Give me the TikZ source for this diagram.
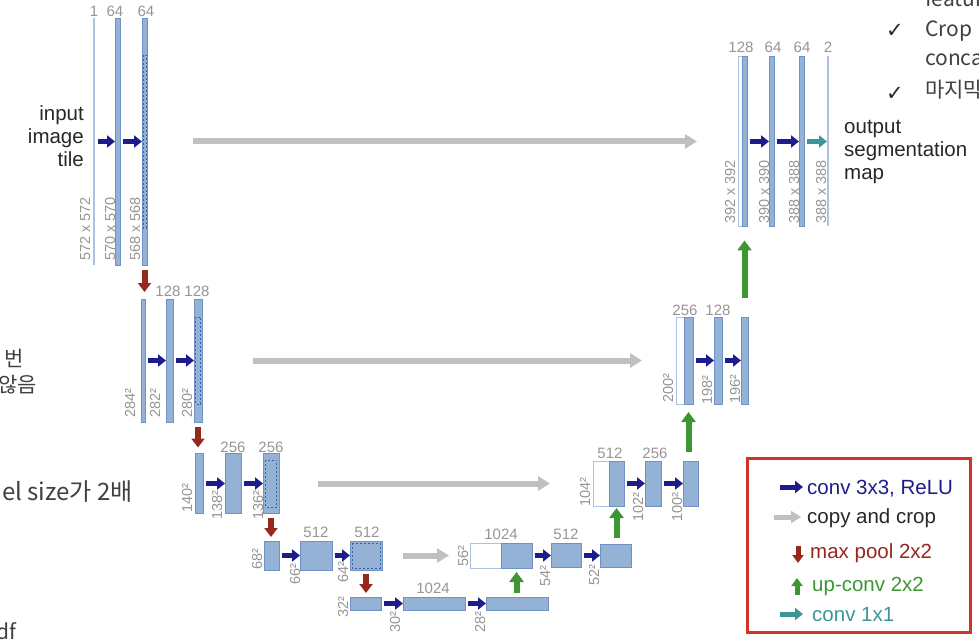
\documentclass[tikz,border=0pt]{standalone}
\usepackage{fontspec}
\setmainfont{Liberation Sans}
\newfontfamily\krfont{Noto Sans CJK KR}
\newfontfamily\symfont{DejaVu Sans}
\usetikzlibrary{arrows.meta}
\definecolor{bfill}{RGB}{148,177,214}
\definecolor{bedge}{RGB}{110,146,196}
\definecolor{bthin}{RGB}{172,194,226}
\definecolor{navyc}{RGB}{28,28,140}
\definecolor{cgray}{RGB}{192,192,192}
\definecolor{pbrown}{RGB}{150,40,30}
\definecolor{ugreen}{RGB}{60,150,50}
\definecolor{tealc}{RGB}{60,150,150}
\definecolor{lblgray}{RGB}{150,150,150}
\definecolor{lred}{RGB}{210,50,40}
\definecolor{slidetxt}{RGB}{64,64,64}
\definecolor{darktxt}{RGB}{40,40,40}
\definecolor{dashc}{RGB}{60,95,160}
\tikzset{
  bar/.style={rectangle, draw=bedge, fill=bfill, line width=0.7pt, inner sep=0pt, outer sep=0pt},
  wbar/.style={rectangle, draw=bthin, fill=white, line width=0.7pt, inner sep=0pt, outer sep=0pt},
  tbar/.style={rectangle, fill=bthin, draw=none, inner sep=0pt, outer sep=0pt},
  cropbox/.style={draw=dashc, dash pattern=on 2pt off 2pt, line width=0.8pt},
  conv/.style={draw=navyc, line width=5pt, -{Triangle[length=8pt,width=12pt]}, shorten <=3pt},
  conv1/.style={conv, draw=tealc},
  cpyarrow/.style={draw=cgray, line width=6pt, -{Triangle[length=12pt,width=14pt]}},
  poolarr/.style={draw=pbrown, line width=6pt, -{Triangle[length=9pt,width=13pt]}},
  upc/.style={draw=ugreen, line width=6pt, -{Triangle[length=10pt,width=14pt]}},
  numlbl/.style={text=lblgray, font=\fontsize{15}{15}\selectfont, inner sep=0pt, anchor=base},
  dimlbl/.style={text=lblgray, font=\fontsize{14.5}{15}\selectfont, inner sep=0pt, rotate=90, anchor=base west},
  bigtxt/.style={text=darktxt, font=\fontsize{20.5}{23}\selectfont, inner sep=0pt},
  lgtxt/.style={font=\fontsize{20.5}{23}\selectfont, inner sep=0pt, anchor=base west},
  slide/.style={text=slidetxt, font=\krfont\fontsize{21}{25}\selectfont, inner sep=0pt},
  ckmark/.style={text=darktxt, font=\symfont\fontsize{21}{24}\selectfont, inner sep=0pt}
}
\begin{document}
\begin{tikzpicture}[x=1pt,y=-1pt]
\useasboundingbox (0,0) rectangle (979,644);
\fill[white] (0,0) rectangle (979,644);
\clip (0,0) rectangle (979,644);

% ---------- level 1 (left)
\node[tbar, minimum width=2, minimum height=247] (L1a) at (94,141.5) {};
\node[bar, minimum width=5, minimum height=247] (L1b) at (117.5,141.5) {};
\node[bar, minimum width=5, minimum height=247] (L1c) at (144.5,141.5) {};
\draw[cropbox] (143,55) rectangle (146,228);
\node[numlbl] (n11) at (94,17) {1};
\node[numlbl] (n12) at (115,17) {64};
\node[numlbl] (n13) at (146,17) {64};
\node[dimlbl] (d11) at (90,261) {572 x 572};
\node[dimlbl] (d12) at (115,261) {570 x 570};
\node[dimlbl] (d13) at (140,261) {568 x 568};
\node[bigtxt, anchor=base east] (in1) at (84,121) {input};
\node[bigtxt, anchor=base east] (in2) at (84,144) {image};
\node[bigtxt, anchor=base east] (in3) at (84,167) {tile};

% ---------- level 1 (right)
\node[wbar, minimum width=4, minimum height=170] (R1w) at (740,141.5) {};
\node[bar, minimum width=5, minimum height=170] (R1b) at (744.5,141.5) {};
\node[bar, minimum width=5, minimum height=170] (R1c) at (771.5,141.5) {};
\node[bar, minimum width=5, minimum height=170] (R1d) at (801.5,141.5) {};
\node[tbar, minimum width=2, minimum height=170] (R1e) at (828,141.5) {};
\node[numlbl] (n14) at (741,53) {128};
\node[numlbl] (n15) at (773,53) {64};
\node[numlbl] (n16) at (802,53) {64};
\node[numlbl] (n17) at (828,53) {2};
\node[dimlbl] (d14) at (735,224) {392 x 392};
\node[dimlbl] (d15) at (769,224) {390 x 390};
\node[dimlbl] (d16) at (799,224) {388 x 388};
\node[dimlbl] (d17) at (826,224) {388 x 388};
\node[bigtxt, anchor=base west] (out1) at (844,134) {output};
\node[bigtxt, anchor=base west] (out2) at (844,157) {segmentation};
\node[bigtxt, anchor=base west] (out3) at (844,180) {map};

% ---------- level 2
\node[bar, minimum width=4, minimum height=123] (L2a) at (143,360.5) {};
\node[bar, minimum width=7, minimum height=123] (L2b) at (169.5,360.5) {};
\node[bar, minimum width=8, minimum height=123] (L2c) at (198,360.5) {};
\draw[cropbox] (195.5,317) rectangle (200.5,404);
\node[numlbl] (n21) at (168,296) {128};
\node[numlbl] (n22) at (197,296) {128};
\node[dimlbl] (d21) at (135,418) {284²};
\node[dimlbl] (d22) at (160,418) {282²};
\node[dimlbl] (d23) at (192,418) {280²};

\node[wbar, minimum width=8, minimum height=87] (R2w) at (680,360.5) {};
\node[bar, minimum width=9, minimum height=87] (R2b) at (688.5,360.5) {};
\node[bar, minimum width=8, minimum height=87] (R2c) at (718,360.5) {};
\node[bar, minimum width=7, minimum height=87] (R2d) at (744.5,360.5) {};
\node[numlbl] (n23) at (685,315) {256};
\node[numlbl] (n24) at (718,315) {128};
\node[dimlbl] (d24) at (673,403) {200²};
\node[dimlbl] (d25) at (712,405) {198²};
\node[dimlbl] (d26) at (740,404) {196²};

% ---------- level 3
\node[bar, minimum width=8, minimum height=60] (L3a) at (199,483.5) {};
\node[bar, minimum width=16, minimum height=60] (L3b) at (233,483.5) {};
\node[bar, minimum width=16, minimum height=60] (L3c) at (271,483.5) {};
\draw[cropbox] (265.5,460) rectangle (276.5,507);
\node[numlbl] (n31) at (233,452) {256};
\node[numlbl] (n32) at (271,452) {256};
\node[dimlbl] (d31) at (192,513) {140²};
\node[dimlbl] (d32) at (222,520) {138²};
\node[dimlbl] (d33) at (263,520) {136²};

\node[wbar, minimum width=16, minimum height=45] (R3w) at (601,483.5) {};
\node[bar, minimum width=15, minimum height=45] (R3b) at (616.5,483.5) {};
\node[bar, minimum width=16, minimum height=45] (R3c) at (653,483.5) {};
\node[bar, minimum width=15, minimum height=45] (R3d) at (690.5,483.5) {};
\node[numlbl] (n33) at (610,458) {512};
\node[numlbl] (n34) at (655,458) {256};
\node[dimlbl] (d34) at (590,507) {104²};
\node[dimlbl] (d35) at (643,522) {102²};
\node[dimlbl] (d36) at (682,522) {100²};

% ---------- level 4
\node[bar, minimum width=15, minimum height=29] (L4a) at (271.5,555.5) {};
\node[bar, minimum width=32, minimum height=29] (L4b) at (316,555.5) {};
\node[bar, minimum width=32, minimum height=29] (L4c) at (366,555.5) {};
\draw[cropbox] (352,543) rectangle (380,568);
\node[numlbl] (n41) at (316,537) {512};
\node[numlbl] (n42) at (367,537) {512};
\node[dimlbl] (d41) at (262,570) {68²};
\node[dimlbl] (d42) at (300,585) {66²};
\node[dimlbl] (d43) at (348,583) {64²};

\node[wbar, minimum width=31, minimum height=25] (R4w) at (485.5,555.5) {};
\node[bar, minimum width=31, minimum height=25] (R4b) at (516.5,555.5) {};
\node[bar, minimum width=30, minimum height=24] (R4c) at (566,555.5) {};
\node[bar, minimum width=31, minimum height=23] (R4d) at (615.5,555.5) {};
\node[numlbl] (n43) at (501,539) {1024};
\node[numlbl] (n44) at (566,539) {512};
\node[dimlbl] (d44) at (468,567) {56²};
\node[dimlbl] (d45) at (550,587) {54²};
\node[dimlbl] (d46) at (599,586) {52²};

% ---------- level 5
\node[bar, minimum width=31, minimum height=13] (L5a) at (365.5,603.5) {};
\node[bar, minimum width=62, minimum height=13] (L5b) at (434,603.5) {};
\node[bar, minimum width=62, minimum height=13] (L5c) at (517,603.5) {};
\node[numlbl] (n51) at (433,593) {1024};
\node[dimlbl] (d51) at (348,618) {32²};
\node[dimlbl] (d52) at (400,633) {30²};
\node[dimlbl] (d53) at (485,633) {28²};

% ---------- conv arrows
\draw[conv] (L1a) -- (L1b);
\draw[conv] (L1b) -- (L1c);
\draw[conv] (R1b) -- (R1c);
\draw[conv] (R1c) -- (R1d);
\draw[conv1] (R1d) -- (R1e);
\draw[conv] (L2a) -- (L2b);
\draw[conv] (L2b) -- (L2c);
\draw[conv] (R2b) -- (R2c);
\draw[conv] (R2c) -- (R2d);
\draw[conv] (L3a) -- (L3b);
\draw[conv] (L3b) -- (L3c);
\draw[conv] (R3b) -- (R3c);
\draw[conv] (R3c) -- (R3d);
\draw[conv] (L4a) -- (L4b);
\draw[conv] (L4b) -- (L4c);
\draw[conv] (R4b) -- (R4c);
\draw[conv] (R4c) -- (R4d);
\draw[conv] (L5a) -- (L5b);
\draw[conv] (L5b) -- (L5c);

% ---------- copy and crop
\draw[cpyarrow, shorten <=46pt, shorten >=41pt] (L1c) -- (R1w);
\draw[cpyarrow, shorten <=51pt, shorten >=34pt] (L2c) -- (R2w);
\draw[cpyarrow, shorten <=39pt, shorten >=43pt] (L3c) -- (R3w);
\draw[cpyarrow, shorten <=21pt, shorten >=21pt] (L4c) -- (R4w);

% ---------- max pool
\draw[poolarr, shorten <=5pt, shorten >=7pt] (L1c.south) -- (L1c.south |- L2a.north);
\draw[poolarr, shorten <=5pt, shorten >=6pt] (L2c.south) -- (L2c.south |- L3a.north);
\draw[poolarr, shorten <=4pt, shorten >=4pt] (L3c.south) -- (L3c.south |- L4a.north);
\draw[poolarr, shorten <=3.5pt, shorten >=4pt] (L4c.south) -- (L4c.south |- L5a.north);

% ---------- up-conv
\draw[upc, shorten <=4pt, shorten >=4pt] (L5c.north -| R4b) -- (R4b.south);
\draw[upc, shorten <=6pt, shorten >=2pt] (R4d.north -| R3b) -- (R3b.south);
\draw[upc, shorten <=9pt, shorten >=8pt] (R3d.north -| R2b) -- (R2b.south);
\draw[upc, shorten <=19pt, shorten >=14pt] (R2d.north -| R1b) -- (R1b.south);

% ---------- legend
\node[draw=lred, line width=3pt, minimum width=223, minimum height=174, inner sep=0pt] (legend) at (858.5,545) {};
\coordinate (k1a) at (780,487); \coordinate (k1b) at (803,487);
\coordinate (k2a) at (774,517); \coordinate (k2b) at (801,517);
\coordinate (k3a) at (798,546); \coordinate (k3b) at (798,563);
\coordinate (k4a) at (797,595); \coordinate (k4b) at (797,578);
\coordinate (k5a) at (780,614); \coordinate (k5b) at (803,614);
\draw[conv, shorten <=0pt] (k1a) -- (k1b);
\draw[cpyarrow, line width=5pt, -{Triangle[length=10pt,width=12pt]}] (k2a) -- (k2b);
\draw[poolarr, line width=5pt, -{Triangle[length=8pt,width=11pt]}] (k3a) -- (k3b);
\draw[upc, line width=5pt, -{Triangle[length=8pt,width=11pt]}] (k4a) -- (k4b);
\draw[conv1, shorten <=0pt] (k5a) -- (k5b);
\node[lgtxt, text=navyc] (lg1) at (807,494) {conv 3x3, ReLU};
\node[lgtxt, text=darktxt] (lg2) at (807,523) {copy and crop};
\node[lgtxt, text=pbrown] (lg3) at (810,558) {max pool 2x2};
\node[lgtxt, text=ugreen] (lg4) at (812,591) {up-conv 2x2};
\node[lgtxt, text=tealc] (lg5) at (812,621) {conv 1x1};

% ---------- slide text fragments (cut by the screenshot edges)
\node[slide, anchor=base west] (s0) at (925,7) {feature};
\node[ckmark, anchor=base west] (c1) at (886,38) {✓};
\node[slide, anchor=base west] (s1) at (925,37) {Crop};
\node[slide, anchor=base west] (s2) at (925,66) {concatenation};
\node[ckmark, anchor=base west] (c2) at (886,101) {✓};
\node[slide, anchor=base west] (s3) at (925,98) {마지막};
\node[slide, anchor=base east] (s4) at (24,366) {번};
\node[slide, anchor=base east] (s5) at (37,392) {않음};
\node[slide, anchor=base east, font=\krfont\fontsize{24}{28}\selectfont] (s6) at (133,500) {el size가 2배};
\node[slide, anchor=base east] (s7) at (17,639) {df};
\end{tikzpicture}
\end{document}
